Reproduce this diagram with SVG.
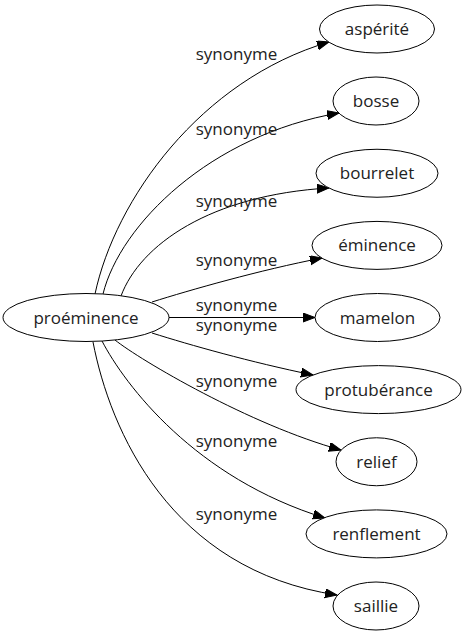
<svg xmlns="http://www.w3.org/2000/svg" width="465" height="635" viewBox="0 0 465 635">
<style>
.n ellipse{fill:#fff;stroke:#000;stroke-width:1}
text{font-family:"Open Sans","DejaVu Sans",sans-serif;font-size:17px;fill:#222;text-anchor:middle}
.e path{fill:none;stroke:#000;stroke-width:1;marker-end:url(#ah)}
</style>
<defs>
<marker id="ah" markerUnits="userSpaceOnUse" markerWidth="13" markerHeight="10" refX="12" refY="4.5" orient="auto">
<path d="M0,0 L12,4.5 L0,9 z" fill="#000" stroke="#000" stroke-width="1"/>
</marker>
</defs>
<rect width="465" height="635" fill="#fff"/>
<g id="edges" class="e">
<path d="M95,294 C115,200 200,80 329,42"/>
<path d="M103,294 C120,225 210,135 339,113"/>
<path d="M121,296 C140,245 210,195 329,188"/>
<path d="M152,302 C190,290 260,270 322,258"/>
<path d="M169,317.5 L315,317.5"/>
<path d="M152,333 C190,345 250,362 313,375"/>
<path d="M115,340 C140,360 250,425 341,450"/>
<path d="M102,341 C125,385 195,478 325,518"/>
<path d="M93,342 C110,430 170,570 337,595"/>
<text x="236.5" y="60">synonyme</text>
<text x="236.5" y="135">synonyme</text>
<text x="236.5" y="207">synonyme</text>
<text x="236.5" y="266">synonyme</text>
<text x="236.5" y="311">synonyme</text>
<text x="236.5" y="331">synonyme</text>
<text x="236.5" y="387">synonyme</text>
<text x="236.5" y="447">synonyme</text>
<text x="236.5" y="520">synonyme</text>
</g>
<g id="proeminence" class="n"><ellipse cx="86" cy="317.5" rx="83" ry="24"/><text x="86" y="323.5">proéminence</text></g>
<g id="asperite" class="n"><ellipse cx="377" cy="29" rx="57.5" ry="24"/><text x="377" y="35">aspérité</text></g>
<g id="bosse" class="n"><ellipse cx="376" cy="101" rx="43" ry="24"/><text x="376" y="107">bosse</text></g>
<g id="bourrelet" class="n"><ellipse cx="377" cy="173.25" rx="61" ry="24"/><text x="377" y="179.25">bourrelet</text></g>
<g id="eminence" class="n"><ellipse cx="377" cy="245.4" rx="65" ry="24"/><text x="377" y="251.4">éminence</text></g>
<g id="mamelon" class="n"><ellipse cx="377.5" cy="317.5" rx="62.5" ry="24"/><text x="377.5" y="323.5">mamelon</text></g>
<g id="protuberance" class="n"><ellipse cx="378.5" cy="389.6" rx="82.5" ry="24"/><text x="378.5" y="395.6">protubérance</text></g>
<g id="relief" class="n"><ellipse cx="376.5" cy="461.75" rx="40.5" ry="24"/><text x="376.5" y="467.75">relief</text></g>
<g id="renflement" class="n"><ellipse cx="376.5" cy="533.9" rx="70.5" ry="24"/><text x="376.5" y="539.9">renflement</text></g>
<g id="saillie" class="n"><ellipse cx="376" cy="606" rx="43" ry="24"/><text x="376" y="612">saillie</text></g>
</svg>
